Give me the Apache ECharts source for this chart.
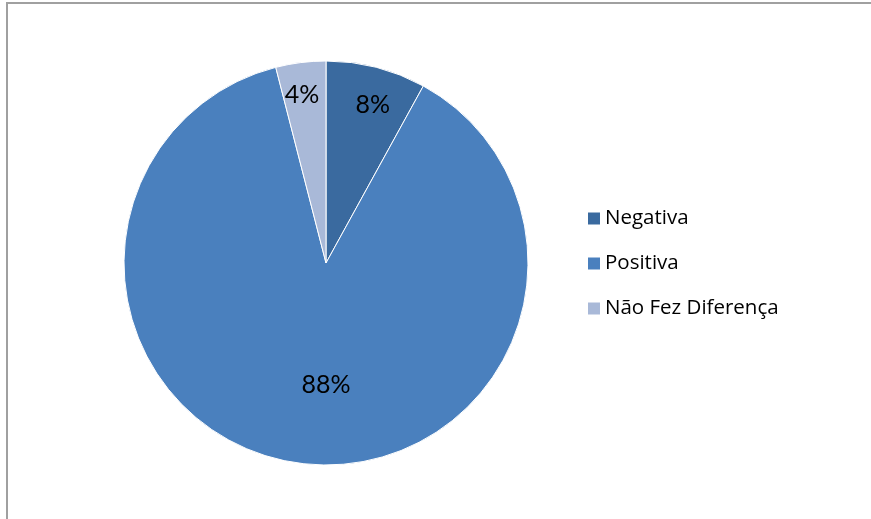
<!DOCTYPE html>
<html>
<head>
<meta charset="utf-8">
<script src="https://cdn.jsdelivr.net/npm/echarts@6/dist/echarts.min.js"></script>
<style>
  html, body { margin: 0; padding: 0; background: #fff; }
  #main { width: 871px; height: 519px; }
  /* moldura cortada do gráfico original */
  #frame {
    position: absolute; left: 6px; top: 2px; width: 880px; height: 530px;
    border-left: 2px solid #a0a0a0; border-top: 2px solid #a0a0a0;
    box-sizing: border-box; pointer-events: none;
  }
</style>
</head>
<body>
<div id="main"></div>
<div id="frame"></div>
<script>
var categorias = ['Negativa', 'Positiva', 'Não Fez Diferença'];
var valores = [8, 88, 4];
var cores = ['#3a6a9f', '#4a80be', '#a9b9d8'];

var chart = echarts.init(document.getElementById('main'), null, { renderer: 'canvas' });

// ajuste manual das etiquetas, parecido com o "melhor ajuste" do Excel
var deslocamentos = [[21, -57], [13, 19], [-11, -65]];

var dados = [];
for (var i = 0; i < categorias.length; i++) {
  dados.push({
    name: categorias[i],
    value: valores[i],
    itemStyle: { color: cores[i] },
    label: { offset: deslocamentos[i] }
  });
}

var option = {
  animation: false,
  legend: {
    orient: 'vertical',
    left: 588,
    top: 208,
    padding: 0,
    itemWidth: 12,
    itemHeight: 12,
    itemGap: 24,
    icon: 'rect',
    itemStyle: { borderWidth: 0 },
    textStyle: {
      fontFamily: '"Open Sans", sans-serif',
      fontSize: 20.5,
      color: '#000'
    },
    data: categorias
  },
  series: [
    {
      type: 'pie',
      center: [326, 263],
      radius: 202,
      startAngle: 90,
      clockwise: true,
      itemStyle: { borderColor: '#fff', borderWidth: 1 },
      label: {
        show: true,
        position: 'inside',
        formatter: '{c}%',
        fontFamily: 'Lato, "Open Sans", sans-serif',
        fontSize: 25,
        color: '#000'
      },
      labelLine: { show: false },
      emphasis: { disabled: true },
      data: dados
    }
  ]
};

chart.setOption(option);
</script>
</body>
</html>
